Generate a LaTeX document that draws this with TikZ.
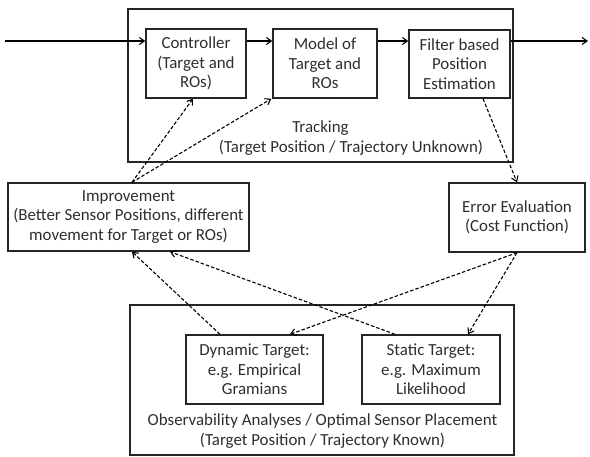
\documentclass[tikz,border=0pt]{standalone}
\usepackage{fontspec}
\setmainfont{Carlito}
\usetikzlibrary{arrows.meta,calc}
\begin{document}
\begin{tikzpicture}[x=1pt,y=-1pt,
  box/.style={draw=black!85,line width=1.4pt,inner sep=0pt,align=center,
    font=\fontsize{16.9}{19.5}\selectfont,text=black!82},
  lbl/.style={inner sep=0pt,align=center,font=\fontsize{16.9}{19.5}\selectfont,text=black!82},
  flow/.style={line width=1.1pt,-{Straight Barb[length=5pt,width=7pt]}},
  dasharrow/.style={line width=1.1pt,dash pattern=on 3.5pt off 2pt,-{Straight Barb[length=5pt,width=7pt]}}]
\useasboundingbox (0,0) rectangle (590,457);
% outer boxes
\node[box,minimum width=385pt,minimum height=153pt] (trk) at (320.5,85.5) {};
\node[box,minimum width=384pt,minimum height=150pt] (obs) at (322,380) {};
% inner boxes
\node[box,minimum width=100pt,minimum height=69pt] (ctrl) at (196,63.5) {Controller\\(Target and\\ROs)};
\node[box,minimum width=104pt,minimum height=69pt] (model) at (325,63.5) {Model of\\Target and\\ROs};
\node[box,minimum width=101pt,minimum height=68pt] (filt) at (459.5,64) {Filter based\\Position\\Estimation};
\node[box,minimum width=241pt,minimum height=68pt] (imp) at (128.5,217) {Improvement\\(Better Sensor Positions, different\\movement for Target or ROs)};
\node[box,minimum width=136pt,minimum height=69pt] (err) at (517,217.5) {Error Evaluation\\(Cost Function)};
\node[box,minimum width=137pt,minimum height=69pt] (dyn) at (254.5,369.5) {Dynamic Target:\\e.g. Empirical\\Gramians};
\node[box,minimum width=138pt,minimum height=69pt] (sta) at (431,369.5) {Static Target:\\e.g. Maximum\\Likelihood};
% labels
\node[lbl] (trk1) at (320.5,128) {Tracking};
\node[lbl] (trk2) at (351,148) {(Target Position / Trajectory Unknown)};
\node[lbl] (obs1) at (322.5,421) {Observability Analyses / Optimal Sensor Placement};
\node[lbl] (obs2) at (322.5,440.5) {(Target Position / Trajectory Known)};
% main flow
\coordinate (in) at (5,41);
\coordinate (out) at (588,41);
\draw[flow] (in) -- (in -| ctrl.west);
\draw[flow] (in -| ctrl.east) -- (in -| model.west);
\draw[flow] (in -| model.east) -- (in -| filt.west);
\draw[flow] (in -| filt.east) -- (out);
% dashed connectors
\draw[dasharrow] ([xshift=3.5pt]imp.north) -- ([xshift=-3pt]ctrl.south);
\draw[dasharrow] ([xshift=3.5pt]imp.north) -- ([xshift=-1pt]model.south west);
\draw[dasharrow] ([xshift=23.5pt]filt.south) -- (err.north);
\draw[dasharrow] (err.south) -- ([xshift=35.5pt]dyn.north);
\draw[dasharrow] (err.south) -- ([xshift=37pt]sta.north);
\draw[dasharrow] ([xshift=-34.5pt]dyn.north) -- ([xshift=3.5pt]imp.south);
\draw[dasharrow] ([xshift=-36pt]sta.north) -- ([xshift=41.5pt]imp.south);
\end{tikzpicture}
\end{document}
